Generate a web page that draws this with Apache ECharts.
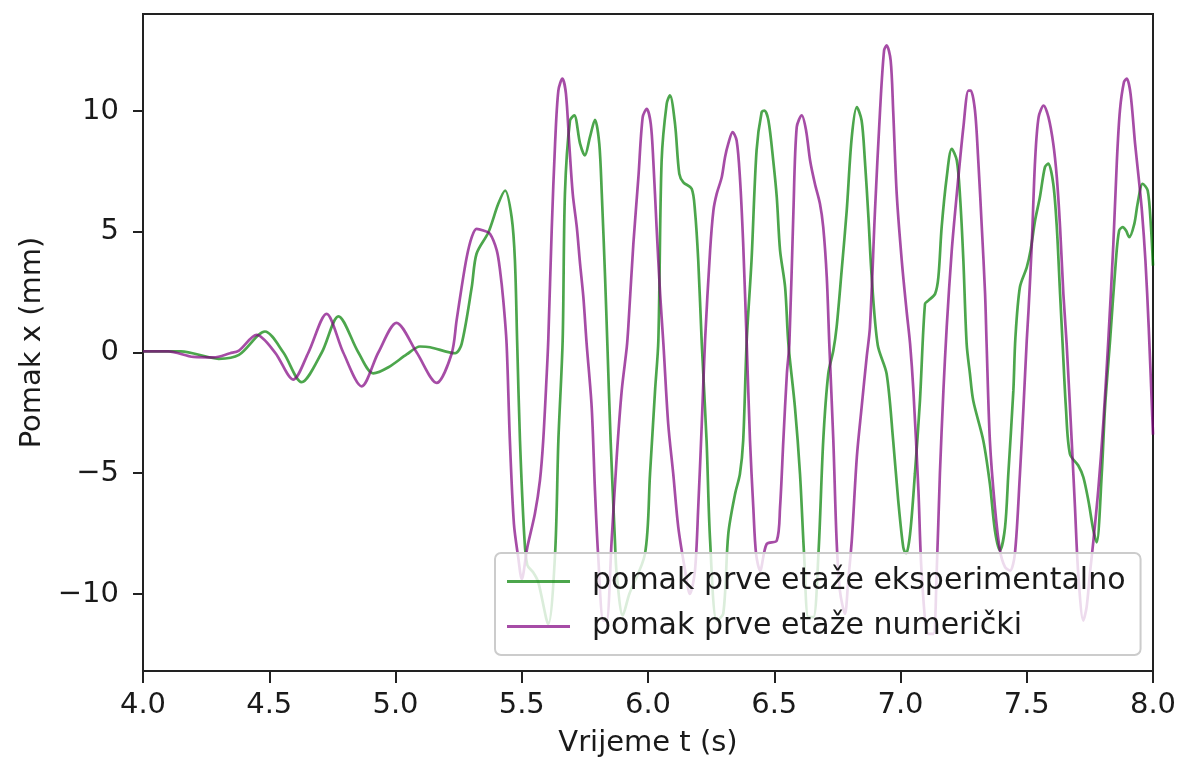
<!DOCTYPE html>
<html>
<head>
<meta charset="utf-8">
<script src="https://cdn.jsdelivr.net/npm/echarts@6/dist/echarts.min.js"></script>
<style>
html,body{margin:0;padding:0;background:#fff;}
#chart{width:1178px;height:769px;}
</style>
</head>
<body>
<div id="chart"></div>
<script>
// Experimental series (green): time [s], displacement [mm]
const expTime = [4.00,4.15,4.30,4.38,4.483,4.556,4.628,4.708,4.774,4.853,4.912,4.972,5.044,5.097,5.137,5.236,5.262,5.302,5.321,5.368,5.407,5.434,5.460,5.473,5.482,5.493,5.510,5.522,5.545,5.565,5.605,5.632,5.645,5.662,5.671,5.691,5.708,5.731,5.750,5.770,5.790,5.807,5.817,5.830,5.839,5.852,5.869,5.876,5.900,5.926,5.988,6.008,6.028,6.041,6.054,6.074,6.087,6.107,6.124,6.140,6.173,6.186,6.199,6.213,6.232,6.246,6.272,6.298,6.318,6.345,6.364,6.377,6.391,6.410,6.430,6.450,6.461,6.477,6.496,6.510,6.523,6.543,6.556,6.582,6.602,6.618,6.635,6.655,6.675,6.694,6.714,6.734,6.747,6.767,6.787,6.807,6.827,6.846,6.859,6.873,6.886,6.910,6.945,6.971,6.991,7.011,7.022,7.038,7.057,7.077,7.097,7.110,7.137,7.150,7.163,7.183,7.203,7.223,7.236,7.249,7.262,7.275,7.288,7.328,7.354,7.374,7.394,7.414,7.427,7.447,7.455,7.473,7.500,7.515,7.533,7.552,7.572,7.585,7.605,7.619,7.632,7.642,7.655,7.671,7.704,7.724,7.744,7.764,7.777,7.797,7.810,7.830,7.853,7.866,7.880,7.893,7.906,7.926,7.939,7.959,7.979,7.992,8.000];
const expValue = [0.05,0.05,-0.26,-0.10,0.87,0.0,-1.23,0.0,1.50,0.0,-0.86,-0.61,-0.08,0.25,0.22,-0.03,0.36,2.71,4.09,4.98,6.16,6.71,5.60,3.81,0.36,-3.65,-7.60,-8.80,-9.10,-9.50,-11.24,-8.34,-3.65,0.50,6.57,9.61,9.82,8.65,8.16,8.92,9.64,8.65,6.57,3.12,0.36,-3.65,-7.79,-9.17,-10.89,-10.00,-8.34,-5.03,-1.57,0.50,7.95,10.30,10.65,9.47,7.40,7.05,6.78,5.88,3.81,0.36,-3.65,-7.79,-11.10,-10.82,-7.51,-5.85,-5.03,-3.65,0.50,3.81,8.37,9.95,10.02,9.61,7.95,6.43,4.23,2.71,0.36,-2.27,-5.03,-8.34,-10.96,-10.96,-8.34,-3.65,-0.88,0.08,1.05,3.40,5.88,8.92,10.16,9.61,7.95,5.60,3.12,0.30,-0.88,-3.65,-6.13,-8.07,-8.34,-7.51,-5.03,-2.00,2.02,2.15,2.43,3.12,5.19,7.26,8.44,7.95,6.43,3.81,0.36,-0.88,-1.99,-3.65,-5.44,-7.37,-8.20,-7.24,-5.03,-1.57,0.60,2.71,3.53,4.23,5.47,6.43,7.68,7.82,6.99,5.19,2.43,0.36,-2.27,-4.20,-4.68,-5.16,-6.13,-7.37,-7.86,-5.03,-2.27,0.50,3.81,5.05,5.19,5.05,4.78,5.33,6.16,6.99,6.71,5.19,3.60];

// Numerical series (purple): time [s], displacement [mm]
const numTime = [4.00,4.10,4.20,4.28,4.345,4.38,4.45,4.523,4.595,4.655,4.727,4.793,4.866,4.932,5.004,5.084,5.163,5.222,5.242,5.262,5.282,5.302,5.321,5.348,5.374,5.401,5.414,5.427,5.440,5.453,5.469,5.486,5.500,5.522,5.552,5.572,5.585,5.599,5.605,5.619,5.632,5.645,5.661,5.675,5.688,5.702,5.718,5.731,5.744,5.757,5.777,5.790,5.803,5.823,5.836,5.856,5.876,5.896,5.916,5.922,5.942,5.962,5.979,5.995,6.011,6.021,6.034,6.048,6.061,6.080,6.100,6.120,6.147,6.166,6.186,6.199,6.213,6.226,6.246,6.259,6.272,6.292,6.305,6.318,6.335,6.351,6.364,6.377,6.391,6.404,6.417,6.428,6.444,6.470,6.510,6.523,6.536,6.550,6.560,6.576,6.589,6.609,6.626,6.642,6.661,6.681,6.694,6.708,6.718,6.734,6.747,6.760,6.780,6.793,6.807,6.827,6.846,6.866,6.879,6.899,6.919,6.935,6.945,6.961,6.971,6.985,7.005,7.024,7.038,7.051,7.071,7.084,7.110,7.130,7.143,7.156,7.170,7.183,7.203,7.223,7.249,7.269,7.278,7.295,7.308,7.322,7.335,7.341,7.354,7.374,7.394,7.414,7.434,7.453,7.473,7.487,7.500,7.507,7.520,7.533,7.547,7.567,7.586,7.605,7.619,7.632,7.645,7.658,7.678,7.691,7.704,7.724,7.737,7.750,7.764,7.783,7.803,7.823,7.843,7.857,7.869,7.885,7.896,7.911,7.929,7.943,7.956,7.970,7.983,8.000];
const numValue = [0.05,0.05,-0.18,-0.20,-0.03,0.08,0.73,0.0,-1.12,0.0,1.60,0.0,-1.40,0.0,1.23,0.0,-1.26,-0.06,1.33,2.71,3.95,4.78,5.12,5.05,4.92,4.23,3.40,2.15,0.36,-3.65,-7.10,-8.48,-9.38,-8.07,-6.68,-5.30,-3.65,-0.88,0.50,5.19,8.65,10.85,11.34,10.72,8.65,6.57,5.19,3.67,2.29,0.36,-2.27,-5.72,-8.48,-11.10,-11.10,-7.79,-4.34,-1.57,0.22,1.05,4.50,7.26,9.75,10.09,9.47,7.95,5.19,2.43,0.36,-2.95,-5.03,-7.24,-9.03,-10.00,-9.03,-6.41,-2.95,0.50,4.23,5.88,6.57,7.26,8.09,8.65,9.13,8.78,7.26,4.50,0.36,-3.65,-6.41,-8.34,-9.03,-7.93,-7.79,-6.41,-3.65,-0.88,0.40,5.88,9.33,9.82,9.20,7.95,6.99,6.16,5.19,3.12,0.36,-3.65,-7.79,-9.86,-10.82,-9.44,-7.79,-4.34,-2.27,-0.19,1.05,5.88,10.02,12.51,12.72,12.10,10.02,6.57,3.81,1.74,0.36,-1.57,-5.72,-9.17,-11.65,-11.65,-9.17,-5.03,-1.57,1.05,4.23,6.57,9.33,10.85,10.85,10.02,7.95,5.19,2.43,0.36,-3.65,-6.41,-8.20,-8.89,-9.03,-8.34,-5.03,-2.27,0.50,1.74,4.50,7.95,9.75,10.23,9.75,8.65,7.26,5.19,2.43,0.36,-3.65,-6.41,-9.17,-11.10,-10.55,-9.17,-7.79,-5.72,-2.95,0.50,4.50,7.95,10.02,11.20,11.34,10.72,8.65,7.26,5.88,3.81,1.05,-3.40];

const seriesNames = ['pomak prve etaže eksperimentalno', 'pomak prve etaže numerički'];
const xTicks = [4.0,4.5,5.0,5.5,6.0,6.5,7.0,7.5,8.0];
const yTicks = [-10,-5,0,5,10];

const pair = (ts, vs) => ts.map((t, i) => [t, vs[i]]);
const FONT = 'DejaVu Sans';
const TXT = '#1a1a1a';
const fmtMinus = s => String(s).replace('-', '\u2212');

const chart = echarts.init(document.getElementById('chart'), null, {renderer: 'canvas'});
chart.setOption({
  animation: false,
  backgroundColor: '#ffffff',
  grid: {
    left: 143, right: 25, top: 14, bottom: 98,
    show: true, borderColor: '#222', borderWidth: 2, backgroundColor: 'transparent',
    outerBoundsMode: 'none'
  },
  xAxis: {
    type: 'value', min: 4, max: 8, interval: 0.5,
    name: 'Vrijeme t (s)', nameLocation: 'middle', nameGap: 58,
    nameTextStyle: {fontFamily: FONT, fontSize: 29, color: TXT},
    axisLine: {show: true, onZero: false, lineStyle: {color: '#222', width: 2}},
    axisTick: {show: true, inside: false, length: 12, lineStyle: {color: '#222', width: 2}},
    axisLabel: {fontFamily: FONT, fontSize: 29, color: TXT, margin: 20,
      formatter: v => v.toFixed(1)},
    splitLine: {show: false}
  },
  yAxis: {
    type: 'value', min: -13.19, max: 14.02,
    name: 'Pomak x (mm)', nameLocation: 'middle', nameGap: 96, nameRotate: 90,
    nameTextStyle: {fontFamily: FONT, fontSize: 29, color: TXT},
    axisLine: {show: true, onZero: false, lineStyle: {color: '#222', width: 2}},
    axisTick: {show: true, inside: false, length: 10, customValues: yTicks, lineStyle: {color: '#222', width: 2}},
    axisLabel: {fontFamily: FONT, fontSize: 29, color: TXT, margin: 24, customValues: yTicks,
      formatter: v => fmtMinus(v)},
    splitLine: {show: false}
  },
  legend: {
    orient: 'vertical', left: 495, top: 553,
    padding: [12, 15, 12, 12], itemGap: 12,
    backgroundColor: 'rgba(255,255,255,0.8)', borderColor: '#cccccc', borderWidth: 2, borderRadius: 6,
    icon: 'rect', itemWidth: 63, itemHeight: 3,
    textStyle: {fontFamily: FONT, fontSize: 30, color: TXT, lineHeight: 33, padding: [0, 0, 0, 17]},
    data: seriesNames
  },
  series: [
    {
      name: seriesNames[0], type: 'line', data: pair(expTime, expValue),
      showSymbol: false, symbol: 'none', smooth: 0.3,
      color: 'rgba(0,128,0,0.7)',
      lineStyle: {width: 2.7, color: 'rgba(0,128,0,0.7)'}
    },
    {
      name: seriesNames[1], type: 'line', data: pair(numTime, numValue),
      showSymbol: false, symbol: 'none', smooth: 0.3,
      color: 'rgba(128,0,128,0.7)',
      lineStyle: {width: 2.7, color: 'rgba(128,0,128,0.7)'}
    }
  ]
});
</script>
</body>
</html>
